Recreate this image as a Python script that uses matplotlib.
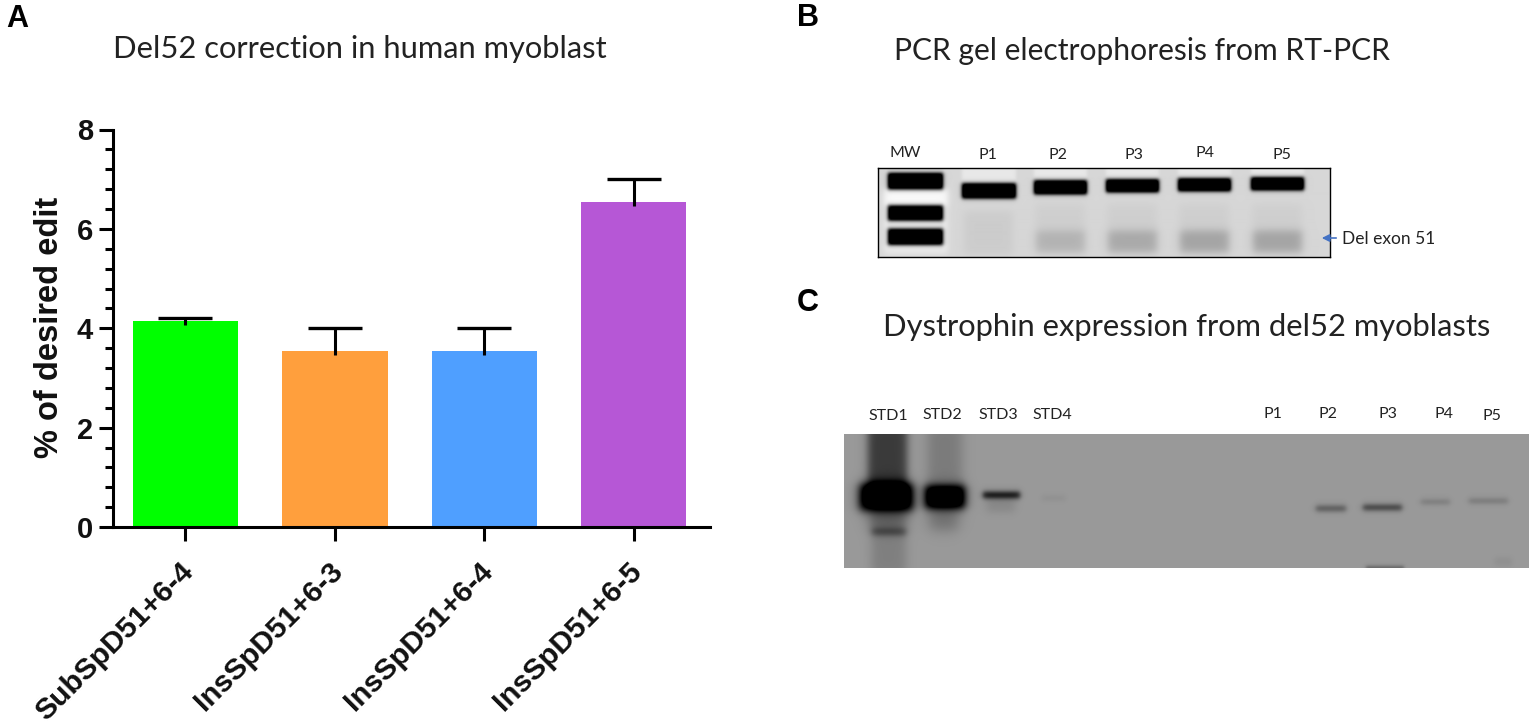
import matplotlib
matplotlib.use('Agg')
import matplotlib.pyplot as plt
import numpy as np

W, H = 1535, 728

# panel A
constructs = ['SubSpD51+6-4', 'InsSpD51+6-3', 'InsSpD51+6-4', 'InsSpD51+6-5']
edit_mean = [4.15, 3.55, 3.55, 6.55]
edit_err = [0.05, 0.45, 0.45, 0.45]
bar_colors = ['#00FF00', '#FF9F3D', '#4F9FFF', '#B657D6']

# gel B: (x0, x1, y0, y1, darkness), in picture pixels
gel_b_wells = [(962, 1016, 168, 186, 0.0), (1034, 1087, 168, 184, 0.0), (1106, 1159, 168, 182, 0.0),
               (1178, 1231, 168, 182, 0.0), (1251, 1304, 168, 181, 0.0)]
gel_b_bands = [(888, 943, 174, 190, 1.2), (888, 943, 206, 221, 1.2), (888, 943, 229, 245, 1.2),
               (962, 1016, 184, 199, 1.2), (1034, 1087, 181, 195, 1.2), (1106, 1159, 180, 193, 1.2),
               (1178, 1231, 179, 192, 1.2), (1251, 1304, 178, 191, 1.2)]
gel_b_smears = [(965, 1013, 212, 255, 0.04), (1036, 1085, 231, 252, 0.11), (1108, 1157, 231, 252, 0.15),
                (1180, 1229, 231, 252, 0.17), (1253, 1302, 231, 252, 0.17),
                (1036, 1085, 205, 255, 0.03), (1108, 1157, 205, 255, 0.03),
                (1180, 1229, 205, 255, 0.03), (1253, 1302, 205, 255, 0.03)]
gel_b_labels = ['MW', 'P1', 'P2', 'P3', 'P4', 'P5']
gel_b_label_x = [905, 988, 1058, 1134, 1205, 1282]
gel_b_label_y = [153, 155, 155, 155, 153, 155]

# gel C: (x0, x1, y0, y1, darkness, blur), in picture pixels
gel_c_bands = [(868, 907, 425, 490, 0.62, 5), (860, 913, 484, 510, 1.5, 6),
               (870, 906, 508, 532, 0.38, 7), (872, 906, 529, 535, 0.5, 4), (872, 906, 536, 575, 0.17, 6),
               (928, 962, 425, 490, 0.2, 7), (925, 965, 486, 508, 1.5, 5.5), (930, 958, 506, 530, 0.28, 8),
               (983, 1020, 492, 498, 1.0, 3), (987, 1015, 498, 512, 0.12, 5), (1042, 1066, 496, 501, 0.06, 3),
               (1316, 1346, 506, 511, 0.5, 3), (1363, 1402, 505, 510, 0.7, 3), (1421, 1450, 500, 504, 0.25, 3),
               (1469, 1508, 499, 503, 0.28, 3), (1366, 1404, 566, 572, 0.35, 2), (1495, 1512, 558, 566, 0.06, 3)]
gel_c_labels = ['STD1', 'STD2', 'STD3', 'STD4', 'P1', 'P2', 'P3', 'P4', 'P5']
gel_c_label_x = [888, 942, 998, 1052, 1273, 1328, 1388, 1444, 1492]
gel_c_label_y = [416, 415, 415, 415, 414, 414, 414, 414, 416]


def px_axes(fig, x0, y0, x1, y1):
    return fig.add_axes([x0 / W, 1 - y1 / H, (x1 - x0) / W, (y1 - y0) / H])


def px_text(fig, x, y, s, **kw):
    kw.setdefault('ha', 'center')
    kw.setdefault('va', 'center')
    return fig.text(x / W, 1 - y / H, s, **kw)


def soft_box(xx, yy, box, blur):
    x0, x1, y0, y1, dark = box[:5]
    fx = 0.5 * (np.tanh((xx - x0) / blur) - np.tanh((xx - x1) / blur))
    fy = 0.5 * (np.tanh((yy - y0) / blur) - np.tanh((yy - y1) / blur))
    return dark * fx * fy


def draw_gel_b(fig):
    x0, y0, x1, y1 = 878, 168, 1330, 257
    xx, yy = np.meshgrid(np.arange(x0, x1) + 0.5, np.arange(y0, y1) + 0.5)
    img = np.full(xx.shape, 0.84)
    img += 0.14 * soft_box(xx, yy, (884, 948, 190, 206, 1.0), 4)  # glow round the ladder
    img += 0.08 * soft_box(xx, yy, (884, 948, 206, 254, 1.0), 4)
    for box in gel_b_wells:
        img += 0.07 * soft_box(xx, yy, box[:4] + (1.0,), 2)
    for box in gel_b_smears:
        img -= soft_box(xx, yy, box, 5)
    for box in gel_b_bands:
        img -= soft_box(xx, yy, box, 2.2)
    ax = px_axes(fig, x0, y0, x1, y1)
    ax.imshow(np.clip(img, 0, 1), cmap='gray', vmin=0, vmax=1, aspect='auto', interpolation='bilinear')
    ax.set_xticks([])
    ax.set_yticks([])
    for s in ax.spines.values():
        s.set_linewidth(1.0)
    for s, x, y in zip(gel_b_labels, gel_b_label_x, gel_b_label_y):
        px_text(fig, x, y, s, fontsize=11.5, family='Lato', color='#222222')


def draw_gel_c(fig):
    x0, y0, x1, y1 = 844, 434, 1529, 568
    xx, yy = np.meshgrid(np.arange(x0, x1) + 0.5, np.arange(y0, y1) + 0.5)
    img = np.full(xx.shape, 0.60)
    for box in gel_c_bands:
        img -= 0.60 * soft_box(xx, yy, box, box[5])
    ax = px_axes(fig, x0, y0, x1, y1)
    ax.imshow(np.clip(img, 0, 1), cmap='gray', vmin=0, vmax=1, aspect='auto', interpolation='bilinear')
    ax.axis('off')
    for s, x, y in zip(gel_c_labels, gel_c_label_x, gel_c_label_y):
        px_text(fig, x, y, s, fontsize=11.5, family='Lato', color='#222222')


def draw_bars(fig):
    ax = px_axes(fig, 112.5, 129.5, 710, 527)
    pos = np.arange(len(constructs))
    mean = np.array(edit_mean)
    err = np.array(edit_err)
    ax.bar(pos, mean, width=0.705, color=bar_colors, zorder=2)
    ax.vlines(pos, mean - 0.08, mean + err, color='black', lw=2.2, zorder=3)
    ax.plot(pos, mean + err, ls='none', marker='_', ms=39, mew=2.4, color='black', zorder=3)
    ax.set_xlim(-0.488, 3.51)
    ax.set_ylim(0, 8)
    ax.set_yticks([0, 2, 4, 6, 8])
    ax.set_yticks(np.arange(0, 8.01, 0.4), minor=True)
    ax.set_xticks(pos)
    ax.set_xticklabels([])
    # slanted labels are placed by hand, the tick labels can't be nudged sideways
    for p, name in zip(pos, constructs):
        ax.annotate(name, xy=(p, 0), xycoords=('data', 'axes fraction'), xytext=(-6, -30),
                    textcoords='offset pixels', rotation=45, ha='right', va='top',
                    rotation_mode='anchor', fontsize=21.5, fontweight='bold',
                    family='Liberation Sans', color='#111111', annotation_clip=False)
    for lab in ax.get_yticklabels():
        lab.set_fontsize(21)
        lab.set_fontweight('bold')
        lab.set_family('Liberation Sans')
        lab.set_color('#111111')
    ax.tick_params(axis='both', which='major', length=10, width=2.2, pad=4)
    ax.tick_params(axis='y', which='minor', length=5.5, width=2.2)
    ax.spines['top'].set_visible(False)
    ax.spines['right'].set_visible(False)
    ax.spines['left'].set_linewidth(2.2)
    ax.spines['bottom'].set_linewidth(2.2)
    px_text(fig, 50, 327, '% of desired edit', rotation=90, fontsize=23.5, fontweight='bold',
            family='Liberation Sans', color='#111111')


fig = plt.figure(figsize=(W / 100, H / 100), dpi=100, facecolor='white')

draw_bars(fig)
draw_gel_b(fig)
draw_gel_c(fig)

title_font = dict(family='Lato', color='#222222')
px_text(fig, 360, 49, 'Del52 correction in human myoblast', fontsize=22.2, **title_font)
px_text(fig, 1142, 51, 'PCR gel electrophoresis from RT-PCR', fontsize=21.6, **title_font)
px_text(fig, 1187, 327, 'Dystrophin expression from del52 myoblasts', fontsize=22.2, **title_font)

panel_font = dict(family='Liberation Sans', fontsize=22, fontweight='bold', color='black')
px_text(fig, 17, 19, 'A', **panel_font)
px_text(fig, 808, 18, 'B', **panel_font)
px_text(fig, 808, 303, 'C', **panel_font)

# arrow pointing at the deleted-exon band
ax_top = px_axes(fig, 0, 0, W, H)
ax_top.set_xlim(0, W)
ax_top.set_ylim(H, 0)
ax_top.axis('off')
ax_top.patch.set_alpha(0)
ax_top.annotate('', xy=(1319, 238), xytext=(1339, 238),
                arrowprops=dict(arrowstyle='-|>', color='#4472C4', lw=1.2, mutation_scale=11))
px_text(fig, 1389, 239, 'Del exon 51', fontsize=12.5, family='Lato', color='#222222')

fig.savefig('out.png', dpi=100)
